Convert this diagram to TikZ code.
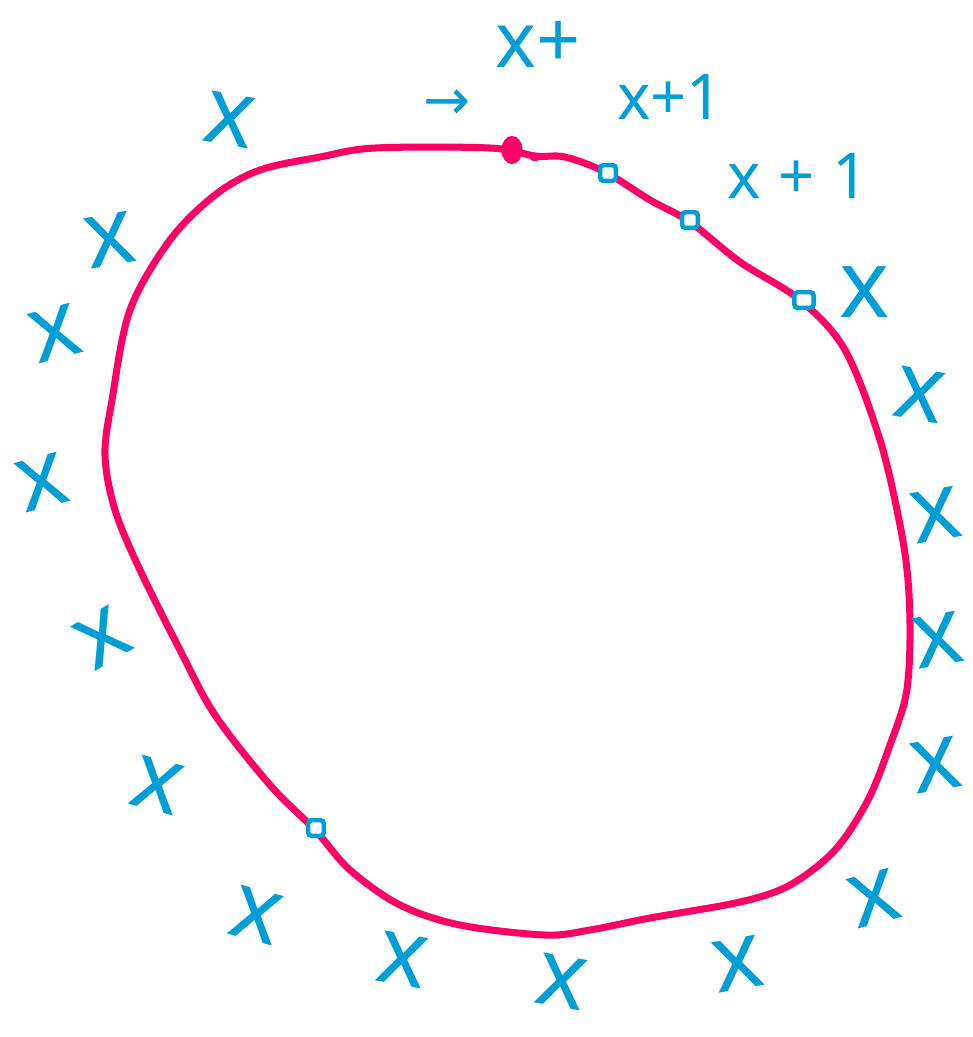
\documentclass[tikz,border=0pt]{standalone}
\usepackage{fontspec}
\newfontfamily\hand{Noto Sans}
\newfontfamily\sym{DejaVu Sans}
\definecolor{pen}{RGB}{255,0,102}
\definecolor{ink}{RGB}{0,158,214}
\usetikzlibrary{shapes.geometric}
\tikzset{
  loopline/.style={draw=pen, line width=4pt, line join=round, line cap=round},
  xmark/.style={text=ink, inner sep=0pt, font=\hand\fontsize{54}{54}\selectfont},
  lbl/.style={text=ink, inner sep=0pt, font=\hand\fontsize{36}{36}\selectfont},
  spot/.style={draw=ink, line width=2.6pt, fill=white, rounded corners=2pt, minimum size=9pt, inner sep=0pt},
  startdot/.style={fill=pen, ellipse, minimum width=12pt, minimum height=16pt, inner sep=0pt}
}
\begin{document}
\begin{tikzpicture}[x=0.2mm,y=-0.2mm]
\useasboundingbox (0,0) rectangle (973,1037);
\fill[white] (0,0) rectangle (973,1037);
% closed loop
\draw[loopline] plot[smooth cycle, tension=0.55] coordinates {
 (375,148) (490,148) (535,156) (565,157) (605,172) (650,200) (690,222)
 (740,262) (800,300) (845,350) (880,440) (900,525) (908,580) (910,640)
 (906,695) (890,745) (868,800) (835,850) (790,885) (740,902) (650,918)
 (590,930) (545,935) (460,925) (400,905) (350,870) (315,830) (270,785)
 (215,715) (180,650) (140,570) (115,510) (105,455) (112,400) (130,310)
 (170,240) (215,195) (260,170) (320,157)};
% start dot and markers on the loop
\node[startdot] (start) at (512,150) {};
\fill[pen] (535,157) ellipse (6 and 4);
\node[spot] (m1) at (608,173) {};
\node[spot] (m2) at (690,220) {};
\node[spot, minimum width=11pt] (m3) at (804,300) {};
\node[spot] (m4) at (316,828) {};
% labels near the top
\node[text=ink, inner sep=0pt, font=\sym\fontsize{32}{32}\selectfont] (arr) at (447,105) {→};
\node[text=ink, inner sep=0pt, font=\hand\fontsize{44}{44}\selectfont] (xp) at (538,44) {x+};
\node[lbl] (l1) at (670,97) {x+1};
\node[lbl] (l2) at (798,176) {x\;+\;1};
% x marks around the loop
\node[xmark, rotate=-10] (x1) at (230,120) {x};
\node[xmark, rotate=10] (x2) at (110,240) {x};
\node[xmark, rotate=15] (x3) at (55,333) {x};
\node[xmark, rotate=15] (x4) at (42,482) {x};
\node[xmark, rotate=30] (x5) at (103,638) {x};
\node[xmark, rotate=-15] (x6) at (157,785) {x};
\node[xmark, rotate=-15] (x7) at (256,915) {x};
\node[xmark, rotate=-10] (x8) at (403,960) {x};
\node[xmark, rotate=-10] (x9) at (562,982) {x};
\node[xmark, rotate=10] (x10) at (738,964) {x};
\node[xmark, rotate=15] (x11) at (874,898) {x};
\node[xmark, rotate=10] (x12) at (936,765) {x};
\node[xmark, rotate=10] (x13) at (938,640) {x};
\node[xmark, rotate=10] (x14) at (936,515) {x};
\node[xmark, rotate=-10] (x15) at (920,395) {x};
\node[xmark] (x16) at (865,292) {x};
\end{tikzpicture}
\end{document}
